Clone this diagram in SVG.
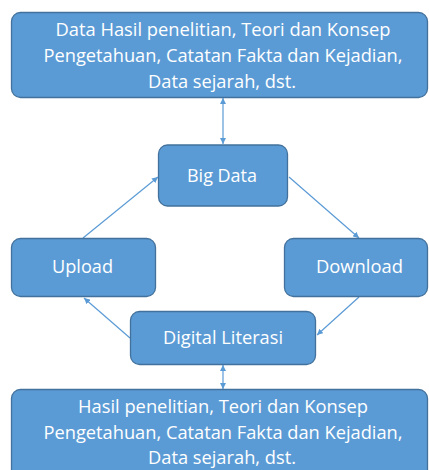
<svg xmlns="http://www.w3.org/2000/svg" width="429" height="470" viewBox="0 0 429 470">
<style>
.box{fill:#5B9BD5;stroke:#41719C;stroke-width:1.3}
.t{font-family:"Open Sans","Liberation Sans",sans-serif;font-size:17.5px;fill:#fff;text-anchor:middle}
.c{stroke:#5B9BD5;stroke-width:1.2;fill:none}
</style>
<defs>
<marker id="ah" viewBox="0 0 10 10" refX="10" refY="5" markerWidth="6" markerHeight="6" markerUnits="userSpaceOnUse" orient="auto-start-reverse">
<path d="M0,0 L10,5 L0,10 z" fill="#5B9BD5"/>
</marker>
</defs>
<g id="connectors">
<line class="c" x1="223" y1="98" x2="223" y2="144" marker-start="url(#ah)" marker-end="url(#ah)"/>
<line class="c" x1="83" y1="238" x2="158" y2="177" marker-end="url(#ah)"/>
<line class="c" x1="289" y1="177" x2="359" y2="238" marker-end="url(#ah)"/>
<line class="c" x1="359" y1="297" x2="317" y2="335" marker-end="url(#ah)"/>
<line class="c" x1="130" y1="338" x2="84" y2="298" marker-end="url(#ah)"/>
<line class="c" x1="223" y1="365" x2="223" y2="389" marker-start="url(#ah)" marker-end="url(#ah)"/>
</g>
<g id="top">
<rect class="box" x="11.5" y="12.5" width="416" height="85" rx="9"/>
<text class="t" x="223" y="36" textLength="335" lengthAdjust="spacingAndGlyphs">Data Hasil penelitian, Teori dan Konsep</text>
<text class="t" x="223" y="62" textLength="359" lengthAdjust="spacingAndGlyphs">Pengetahuan, Catatan Fakta dan Kejadian,</text>
<text class="t" x="222" y="88" textLength="148" lengthAdjust="spacingAndGlyphs">Data sejarah, dst.</text>
</g>
<g id="bigdata">
<rect class="box" x="158.5" y="145" width="129" height="61" rx="9"/>
<text class="t" x="222" y="182" textLength="70" lengthAdjust="spacingAndGlyphs">Big Data</text>
</g>
<g id="upload">
<rect class="box" x="11.5" y="238.5" width="144" height="58" rx="9"/>
<text class="t" x="82.5" y="273" textLength="61" lengthAdjust="spacingAndGlyphs">Upload</text>
</g>
<g id="download">
<rect class="box" x="284.5" y="238.5" width="143" height="58" rx="9"/>
<text class="t" x="359.5" y="273" textLength="87" lengthAdjust="spacingAndGlyphs">Download</text>
</g>
<g id="digital">
<rect class="box" x="130.5" y="311.5" width="185" height="53" rx="9"/>
<text class="t" x="223" y="344" textLength="120" lengthAdjust="spacingAndGlyphs">Digital Literasi</text>
</g>
<g id="bottom">
<rect class="box" x="11.5" y="389.5" width="416" height="95" rx="9"/>
<text class="t" x="223" y="413" textLength="290" lengthAdjust="spacingAndGlyphs">Hasil penelitian, Teori dan Konsep</text>
<text class="t" x="223" y="439" textLength="359" lengthAdjust="spacingAndGlyphs">Pengetahuan, Catatan Fakta dan Kejadian,</text>
<text class="t" x="222" y="464" textLength="148" lengthAdjust="spacingAndGlyphs">Data sejarah, dst.</text>
</g>
</svg>
